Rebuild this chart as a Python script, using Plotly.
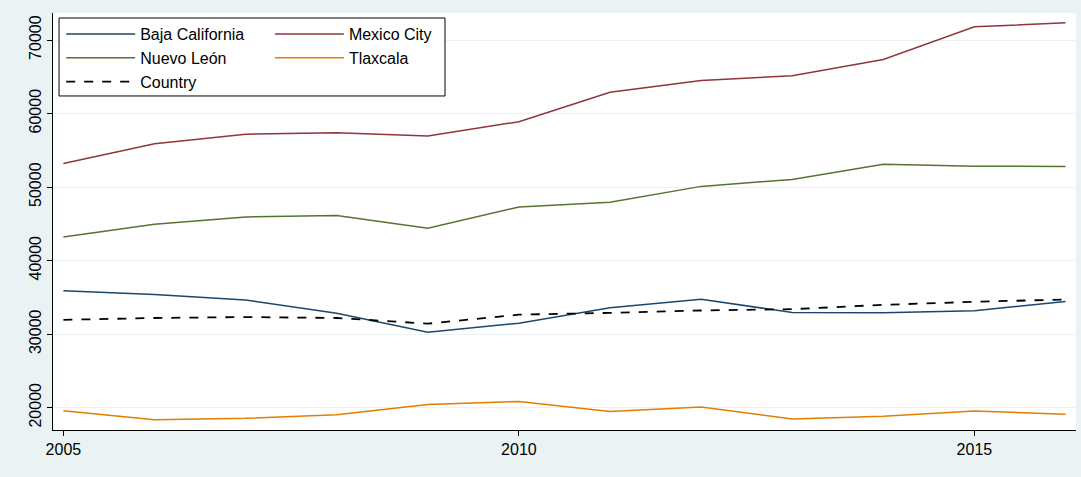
import plotly.graph_objects as go

years = list(range(2005, 2017))
baja_california = [35900, 35400, 34650, 32850, 30250, 31500, 33600, 34750, 32950, 32900, 33200, 34450]
mexico_city = [53200, 55900, 57200, 57400, 56950, 58900, 62900, 64500, 65150, 67350, 71800, 72350]
nuevo_leon = [43200, 44950, 45950, 46150, 44400, 47300, 47950, 50100, 51050, 53100, 52850, 52800]
tlaxcala = [19600, 18350, 18550, 19050, 20450, 20850, 19500, 20100, 18450, 18850, 19550, 19100]
country = [31950, 32200, 32330, 32200, 31430, 32650, 32900, 33220, 33400, 33990, 34400, 34720]

x_ticks = [2005, 2010, 2015]
y_ticks = [20000, 30000, 40000, 50000, 60000, 70000]

fig = go.Figure()
fig.add_trace(go.Scatter(x=years, y=baja_california, mode="lines", name="Baja California",
                         line=dict(color="#1A476F", width=1.5), legend="legend"))
fig.add_trace(go.Scatter(x=years, y=nuevo_leon, mode="lines", name="Nuevo León",
                         line=dict(color="#55752F", width=1.5), legend="legend"))
fig.add_trace(go.Scatter(x=years, y=country, mode="lines", name="Country",
                         line=dict(color="black", width=1.8, dash="dash"), legend="legend"))
fig.add_trace(go.Scatter(x=years, y=mexico_city, mode="lines", name="Mexico City",
                         line=dict(color="#90353B", width=1.5), legend="legend2"))
fig.add_trace(go.Scatter(x=years, y=tlaxcala, mode="lines", name="Tlaxcala",
                         line=dict(color="#E37E00", width=1.5), legend="legend2"))

font = dict(family="Liberation Sans, Arial, sans-serif", size=16, color="black")

fig.update_layout(
    width=1081, height=477,
    margin=dict(l=53, r=5, t=13, b=47),
    paper_bgcolor="#EAF2F3",
    plot_bgcolor="white",
    font=font,
    showlegend=True,
    legend=dict(x=0.008, y=0.99, xanchor="left", yanchor="top", bgcolor="rgba(0,0,0,0)",
                borderwidth=0, font=font, tracegroupgap=0, itemwidth=69),
    legend2=dict(x=0.212, y=0.99, xanchor="left", yanchor="top", bgcolor="rgba(0,0,0,0)",
                 borderwidth=0, font=font, tracegroupgap=0, itemwidth=69),
    shapes=[dict(type="rect", xref="paper", yref="paper", x0=0.0059, x1=0.3832, y0=0.801, y1=0.988,
                 line=dict(color="black", width=1), fillcolor="white", layer="above")],
)
fig.update_xaxes(range=[2004.886, 2016.115], tickvals=x_ticks, ticktext=[str(v) for v in x_ticks],
                 showgrid=False, showline=True, linecolor="black", linewidth=1,
                 ticks="outside", ticklen=5, tickcolor="black", zeroline=False, tickfont=font)
fig.update_yaxes(range=[16967, 73680], tickvals=y_ticks, ticktext=[str(v) for v in y_ticks],
                 showgrid=True, gridcolor="#EAF2F3", gridwidth=1,
                 showline=True, linecolor="black", linewidth=1, tickangle=-90,
                 ticks="outside", ticklen=5, tickcolor="black", zeroline=False, tickfont=font)

fig.write_html("out.html", config={"displayModeBar": False},
               post_script="document.body.style.margin='0';document.body.style.overflow='hidden';")
